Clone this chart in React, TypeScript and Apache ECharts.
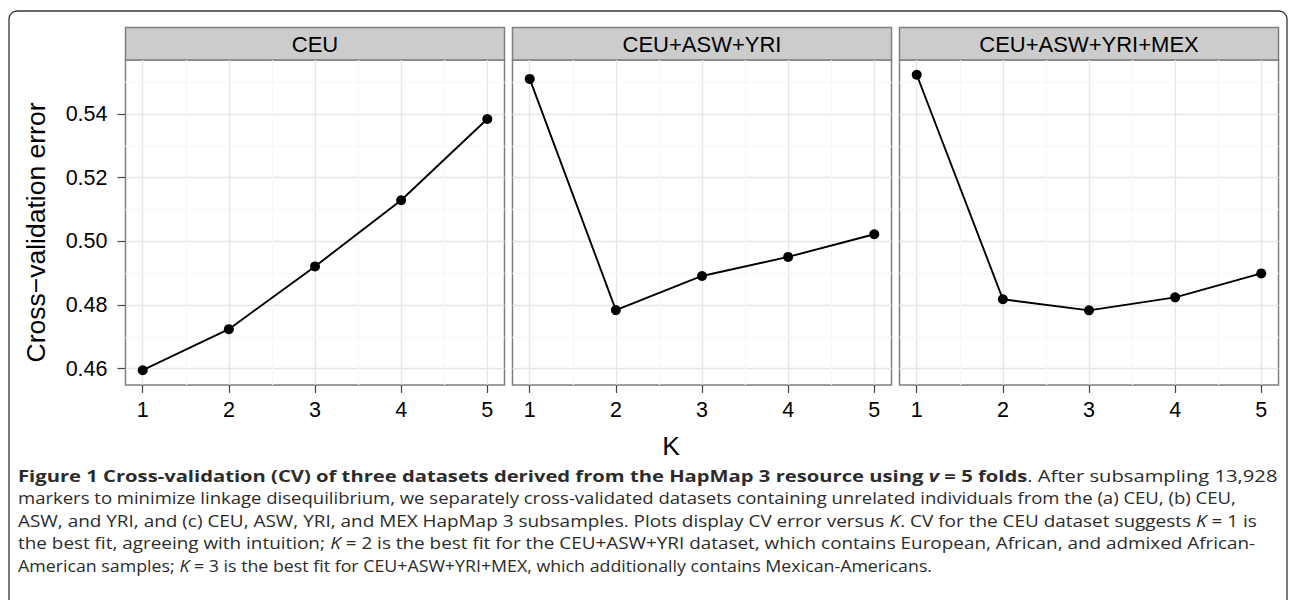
import React, { useEffect, useRef } from "react";
import * as echarts from "echarts";

// ---- data ----
const kValues = [1, 2, 3, 4, 5];
const panelNames = ["CEU", "CEU+ASW+YRI", "CEU+ASW+YRI+MEX"];
const cvCEU = [0.4595, 0.4724, 0.4921, 0.5129, 0.5384];
const cvCEUASWYRI = [0.551, 0.4784, 0.4891, 0.4951, 0.5022];
const cvCEUASWYRIMEX = [0.5523, 0.4818, 0.4783, 0.4824, 0.4899];
const yTicks = [0.46, 0.48, 0.5, 0.52, 0.54];
const yMinorTicks = [0.47, 0.49, 0.51, 0.53, 0.55];
const xMinorTicks = [1.5, 2.5, 3.5, 4.5];
const xTitle = "K";
const yTitle = "Cross\u2212validation error";

const panelValues = [cvCEU, cvCEUASWYRI, cvCEUASWYRIMEX];

// ---- caption ----
type Seg = [string, string];
const captionLines: Seg[][] = [
  [
    ["b", "Figure 1 Cross-validation (CV) of three datasets derived from the HapMap 3 resource using "],
    ["bi", "v"],
    ["b", " = 5 folds"],
    ["r", ". After subsampling 13,928"],
  ],
  [["r", "markers to minimize linkage disequilibrium, we separately cross-validated datasets containing unrelated individuals from the (a) CEU, (b) CEU,"]],
  [
    ["r", "ASW, and YRI, and (c) CEU, ASW, YRI, and MEX HapMap 3 subsamples. Plots display CV error versus "],
    ["i", "K"],
    ["r", ". CV for the CEU dataset suggests "],
    ["i", "K"],
    ["r", " = 1 is"],
  ],
  [
    ["r", "the best fit, agreeing with intuition; "],
    ["i", "K"],
    ["r", " = 2 is the best fit for the CEU+ASW+YRI dataset, which contains European, African, and admixed African-"],
  ],
  [
    ["r", "American samples; "],
    ["i", "K"],
    ["r", " = 3 is the best fit for CEU+ASW+YRI+MEX, which additionally contains Mexican-Americans."],
  ],
];
const captionRightEdges = [1277, 1237, 1257, 1256, 933];

// ---- layout ----
const PANEL_LEFTS = [125.5, 512.5, 899.5];
const PANEL_W = 379;
const PANEL_TOP = 60;
const PANEL_H = 325;
const STRIP_TOP = 27.5;
const AX_FONT = "'Liberation Sans', Arial, Helvetica, sans-serif";
const CAP_FONT = "'Open Sans', 'Noto Sans', sans-serif";
const CAP_SIZE = 15.5;
const CAP_COLOR = "#2b2b2b";
const CAP_LEFT = 18;
const CAP_Y0 = 475.5;
const CAP_DY = 22.6;

const segStyle: Record<string, { fontWeight: string; fontStyle: string }> = {
  b: { fontWeight: "bold", fontStyle: "normal" },
  bi: { fontWeight: "bold", fontStyle: "italic" },
  i: { fontWeight: "normal", fontStyle: "italic" },
  r: { fontWeight: "normal", fontStyle: "normal" },
};

function measureLine(segs: Seg[]): number {
  const c = document.createElement("canvas");
  const ctx = c.getContext("2d");
  if (!ctx) return 1;
  let w = 0;
  for (const [k, t] of segs) {
    const s = segStyle[k];
    ctx.font = `${s.fontStyle} ${s.fontWeight} ${CAP_SIZE}px ${CAP_FONT}`;
    w += ctx.measureText(t).width;
  }
  return w;
}

function range(vals: number[]) {
  const mn = Math.min(...vals);
  const mx = Math.max(...vals);
  const pad = (mx - mn) * 0.05;
  return [mn - pad, mx + pad];
}

export default function App() {
  const ref = useRef<HTMLDivElement>(null);

  useEffect(() => {
    if (!ref.current) return;
    const chart = echarts.init(ref.current, undefined, { renderer: "svg" });

    const [xMin, xMax] = range(kValues);
    const [yMin, yMax] = range(([] as number[]).concat(...panelValues));

    const grids = PANEL_LEFTS.map((left) => ({
      left,
      top: PANEL_TOP,
      width: PANEL_W,
      height: PANEL_H,
      show: true,
      backgroundColor: "#ffffff",
      borderColor: "#7f7f7f",
      borderWidth: 1.5,
      containLabel: false,
      outerBoundsMode: "none",
    }));

    const xAxes = PANEL_LEFTS.map((_, i) => ({
      type: "value",
      gridIndex: i,
      min: xMin,
      max: xMax,
      axisLine: { show: false },
      axisTick: {
        show: true,
        customValues: kValues,
        length: 8,
        lineStyle: { color: "#444", width: 1.2 },
      },
      axisLabel: {
        customValues: kValues,
        margin: 14,
        fontSize: 21.5,
        color: "#000",
        fontFamily: AX_FONT,
        formatter: (v: number) => String(Math.round(v)),
      },
      splitLine: { show: true, lineStyle: { color: "#e5e5e5", width: 1.3 } },
    }));

    const yAxes = PANEL_LEFTS.map((_, i) => ({
      type: "value",
      gridIndex: i,
      min: yMin,
      max: yMax,
      axisLine: { show: false },
      axisTick: {
        show: i === 0,
        customValues: yTicks,
        length: 8,
        lineStyle: { color: "#444", width: 1.2 },
      },
      axisLabel: {
        show: i === 0,
        customValues: yTicks,
        margin: 18,
        fontSize: 21.5,
        color: "#000",
        fontFamily: AX_FONT,
        formatter: (v: number) => v.toFixed(2),
      },
      splitLine: { show: true, lineStyle: { color: "#e5e5e5", width: 1.3 } },
    }));

    const series = panelValues.map((vals, i) => ({
      type: "line",
      xAxisIndex: i,
      yAxisIndex: i,
      data: kValues.map((k, j) => [k, vals[j]]),
      symbol: "circle",
      symbolSize: 10,
      showSymbol: true,
      itemStyle: { color: "#000" },
      lineStyle: { color: "#000", width: 1.9 },
      z: 3,
      markLine: {
        silent: true,
        symbol: "none",
        z: 1,
        label: { show: false },
        emphasis: { disabled: true },
        lineStyle: { color: "#f7f7f7", width: 1.3, type: "solid" },
        data: [
          ...xMinorTicks.map((v) => ({ xAxis: v })),
          ...yMinorTicks.filter((v) => v > yMin && v < yMax).map((v) => ({ yAxis: v })),
        ],
      },
    }));

    const graphics: any[] = [];
    graphics.push({
      type: "rect",
      silent: true,
      z: -10,
      shape: { x: 9, y: 11, width: 1278, height: 700, r: 8 },
      style: { fill: "none", stroke: "#333", lineWidth: 1.3 },
    });
    PANEL_LEFTS.forEach((left, i) => {
      graphics.push({
        type: "rect",
        silent: true,
        shape: { x: left, y: STRIP_TOP, width: PANEL_W, height: PANEL_TOP - STRIP_TOP },
        style: { fill: "#cccccc", stroke: "#7f7f7f", lineWidth: 1.5 },
      });
      graphics.push({
        type: "text",
        silent: true,
        x: left + PANEL_W / 2,
        y: (STRIP_TOP + PANEL_TOP) / 2 + 0.5,
        style: {
          text: panelNames[i],
          fontSize: 22,
          fontFamily: AX_FONT,
          fill: "#000",
          align: "center",
          verticalAlign: "middle",
        },
      });
    });
    graphics.push({
      type: "text",
      silent: true,
      x: 36,
      y: 232.5,
      rotation: Math.PI / 2,
      style: {
        text: yTitle,
        fontSize: 26.5,
        fontFamily: AX_FONT,
        fill: "#000",
        align: "center",
        verticalAlign: "middle",
      },
    });
    graphics.push({
      type: "text",
      silent: true,
      x: 671,
      y: 445.5,
      style: {
        text: xTitle,
        fontSize: 26.5,
        fontFamily: AX_FONT,
        fill: "#000",
        align: "center",
        verticalAlign: "middle",
      },
    });

    const rich: Record<string, any> = {};
    Object.keys(segStyle).forEach((k) => {
      rich[k] = {
        fontFamily: CAP_FONT,
        fontSize: CAP_SIZE,
        fontWeight: segStyle[k].fontWeight,
        fontStyle: segStyle[k].fontStyle,
        fill: CAP_COLOR,
        color: CAP_COLOR,
      };
    });
    captionLines.forEach((segs, li) => {
      const natural = measureLine(segs);
      const target = captionRightEdges[li] - CAP_LEFT;
      const sx = natural > 0 ? target / natural : 1;
      graphics.push({
        type: "text",
        silent: true,
        x: CAP_LEFT,
        y: CAP_Y0 + li * CAP_DY,
        scaleX: sx,
        style: {
          text: segs.map(([k, t]) => `{${k}|${t}}`).join(""),
          rich,
          fontFamily: CAP_FONT,
          fontSize: CAP_SIZE,
          fill: CAP_COLOR,
          align: "left",
          verticalAlign: "middle",
        },
      });
    });

    chart.setOption({
      animation: false,
      backgroundColor: "#ffffff",
      grid: grids,
      xAxis: xAxes,
      yAxis: yAxes,
      series,
      graphic: graphics,
    } as any);

    return () => chart.dispose();
  }, []);

  return (
    <div
      ref={ref}
      style={{ position: "absolute", left: 0, top: 0, width: 1290, height: 600 }}
    />
  );
}
